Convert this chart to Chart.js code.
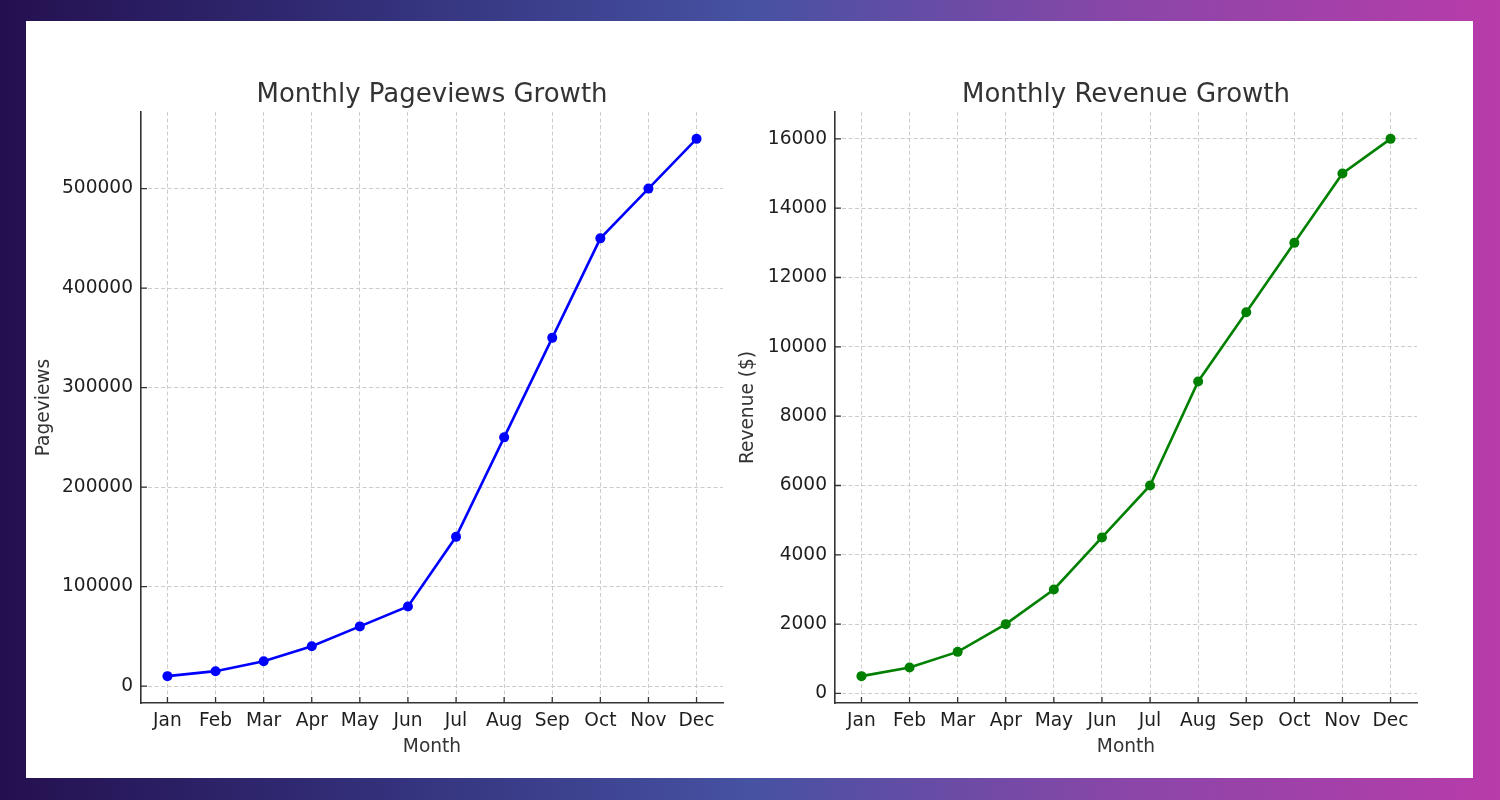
<!DOCTYPE html>
<html>
<head>
<meta charset="utf-8">
<script src="https://cdn.jsdelivr.net/npm/chart.js@4"></script>
<style>
  html, body { margin: 0; padding: 0; }
  body {
    width: 1500px; height: 800px; position: relative; overflow: hidden;
    background: linear-gradient(90deg, #241050 0%, #33307a 25%, #4652a2 50%, #8a46a8 75%, #b83caa 100%);
    font-family: "DejaVu Sans", sans-serif;
  }
  #panel { position: absolute; left: 26px; top: 21px; width: 1447px; height: 757px; background: #ffffff; }
  canvas { position: absolute; }
  #c1 { left: 26px; top: 21px; }
  #c2 { left: 736px; top: 21px; }
</style>
</head>
<body>
<div id="panel"></div>
<canvas id="c1" width="710" height="757"></canvas>
<canvas id="c2" width="737" height="757"></canvas>
<script>
const months = ["Jan","Feb","Mar","Apr","May","Jun","Jul","Aug","Sep","Oct","Nov","Dec"];
const pageviews = [10000, 15000, 25000, 40000, 60000, 80000, 150000, 250000, 350000, 450000, 500000, 550000];
const revenue = [500, 750, 1200, 2000, 3000, 4500, 6000, 9000, 11000, 13000, 15000, 16000];
const pageviewTicks = [0, 100000, 200000, 300000, 400000, 500000];
const revenueTicks = [0, 2000, 4000, 6000, 8000, 10000, 12000, 14000, 16000];
const monthTicks = [0,1,2,3,4,5,6,7,8,9,10,11];

const FONT = "'DejaVu Sans', sans-serif";
const tickFont = { family: FONT, size: 18.6 };
const gridColor = "#cccccc";
const spineColor = "#333333";
const textColor = "#1e1e1e";

const innerTicks = {
  id: "innerTicks",
  afterDraw(chart) {
    const ctx = chart.ctx;
    const xs = chart.scales.x, ys = chart.scales.y;
    const a = chart.chartArea;
    ctx.save();
    ctx.strokeStyle = spineColor;
    ctx.lineWidth = 1.3;
    ctx.beginPath();
    xs.ticks.forEach(t => {
      const px = xs.getPixelForValue(t.value);
      ctx.moveTo(px, a.bottom);
      ctx.lineTo(px, a.bottom - 6);
    });
    ys.ticks.forEach(t => {
      const py = ys.getPixelForValue(t.value);
      ctx.moveTo(a.left, py);
      ctx.lineTo(a.left + 6, py);
    });
    ctx.stroke();
    ctx.restore();
  }
};

function makeChart(id, title, yTitle, values, yTicks, yMin, yMax, color, yWidth, padRight, yTitlePad) {
  const data = values.map((v, i) => ({ x: monthTicks[i], y: v }));
  return new Chart(document.getElementById(id), {
    type: "line",
    data: {
      datasets: [{
        data: data,
        borderColor: color,
        backgroundColor: color,
        pointBackgroundColor: color,
        pointBorderColor: color,
        borderWidth: 2.6,
        pointRadius: 5,
        pointBorderWidth: 0,
        tension: 0,
        fill: false
      }]
    },
    options: {
      responsive: false,
      animation: false,
      devicePixelRatio: 1,
      layout: { padding: { left: 0, right: padRight, top: 0, bottom: 0 } },
      plugins: {
        legend: { display: false },
        tooltip: { enabled: false },
        title: {
          display: true,
          fullSize: false,
          text: title,
          color: "#333333",
          font: { family: FONT, size: 26, weight: "normal" },
          padding: { top: 58.4, bottom: 1.4 }
        }
      },
      scales: {
        x: {
          type: "linear",
          min: -0.55,
          max: 11.55,
          afterBuildTicks: s => { s.ticks = monthTicks.map(v => ({ value: v })); },
          afterFit: s => { s.height = 75; },
          ticks: {
            callback: v => months[v],
            color: textColor,
            font: tickFont,
            padding: 7,
            maxRotation: 0,
            autoSkip: false
          },
          grid: { color: gridColor, lineWidth: 1, drawTicks: false },
          border: { display: true, color: spineColor, width: 1.6, dash: [4, 2.5] },
          title: {
            display: true,
            text: "Month",
            color: "#333333",
            font: tickFont,
            padding: { top: 0, bottom: 20 }
          }
        },
        y: {
          type: "linear",
          min: yMin,
          max: yMax,
          afterBuildTicks: s => { s.ticks = yTicks.map(v => ({ value: v })); },
          afterFit: s => { s.width = yWidth; },
          ticks: {
            color: textColor,
            font: tickFont,
            padding: 8,
            callback: v => String(v)
          },
          grid: { color: gridColor, lineWidth: 1, drawTicks: false },
          border: { display: true, color: spineColor, width: 1.6, dash: [4, 2.5] },
          title: {
            display: true,
            text: yTitle,
            color: "#333333",
            font: tickFont,
            padding: { top: yTitlePad, bottom: 0 }
          }
        }
      }
    },
    plugins: [innerTicks]
  });
}

makeChart("c1", "Monthly Pageviews Growth", "Pageviews", pageviews, pageviewTicks, -17000, 577000, "#0000ff", 115, 13, 7.5);
makeChart("c2", "Monthly Revenue Growth", "Revenue ($)", revenue, revenueTicks, -275, 16775, "#008000", 99, 56, 1);
</script>
</body>
</html>
